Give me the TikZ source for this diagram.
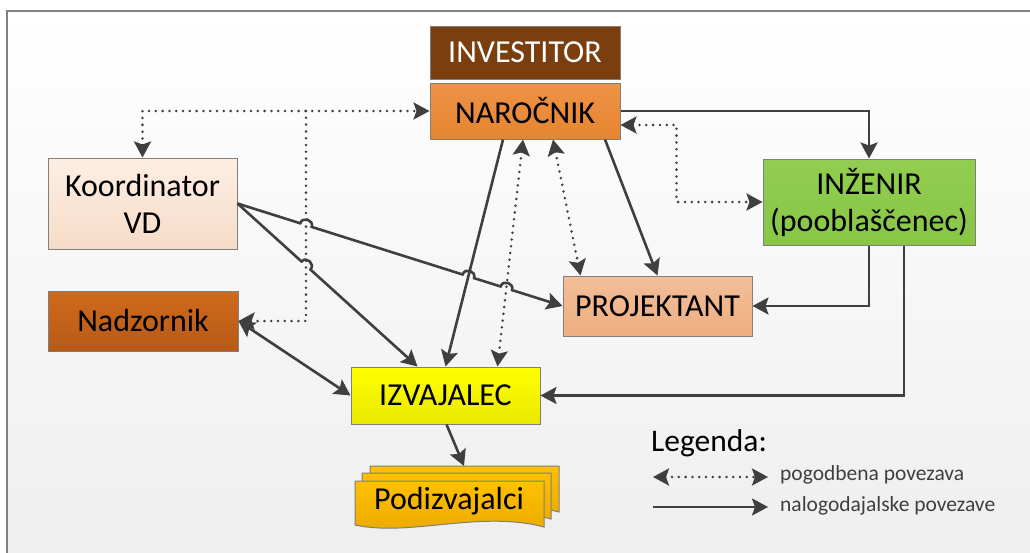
\documentclass[tikz,border=0pt]{standalone}
\usepackage{fontspec}
\setmainfont{Carlito}
\usetikzlibrary{arrows.meta,calc,intersections}
\definecolor{ln}{HTML}{3F3F3F}
\definecolor{framec}{HTML}{808080}
\definecolor{bordc}{HTML}{7F7F7F}
\definecolor{bgbot}{HTML}{EEEEEE}
\definecolor{invc}{HTML}{7B3F0F}
\definecolor{nartop}{HTML}{EE9247}
\definecolor{narbot}{HTML}{E5852F}
\definecolor{kootop}{HTML}{FDEEE3}
\definecolor{koobot}{HTML}{F6DCC8}
\definecolor{inztop}{HTML}{92CD50}
\definecolor{inzbot}{HTML}{88C646}
\definecolor{protop}{HTML}{F3BE98}
\definecolor{probot}{HTML}{EEAE80}
\definecolor{nadtop}{HTML}{D06A1C}
\definecolor{nadbot}{HTML}{B75A17}
\definecolor{izvtop}{HTML}{FFFF00}
\definecolor{izvbot}{HTML}{E9E900}
\definecolor{podtop}{HTML}{FFC000}
\definecolor{podbot}{HTML}{E9A800}
\begin{document}
\begin{tikzpicture}[x=1pt,y=-1pt,
  >={Stealth[length=16pt,width=17pt,inset=3pt]},
  box/.style={draw=bordc, line width=1pt, inner sep=0pt, align=center,
    font=\fontsize{32}{37}\selectfont, text=black},
  con/.style={draw=ln, line width=2.6pt, ->},
  dcon/.style={draw=ln, line width=2.8pt, line cap=round, dash pattern=on 0pt off 6.8pt, <->},
  hop/.style={bend left=90, looseness=1.6},
  legtext/.style={anchor=west, inner sep=0pt, font=\fontsize{21.5}{25}\selectfont, text=ln}
]
\useasboundingbox (0,0) rectangle (1030,552);
% background frame
\path[draw=framec, line width=1.2pt, top color=white, bottom color=bgbot] (7,11) rectangle (1045,570);

% nodes
\node[box, fill=invc, text=white, minimum width=190pt, minimum height=53pt] (inv) at (525,52.5) {INVESTITOR};
\node[box, top color=nartop, bottom color=narbot, minimum width=190pt, minimum height=56pt] (nar) at (525,111) {NAROČNIK};
\node[box, top color=kootop, bottom color=koobot, minimum width=189pt, minimum height=91pt] (koord) at (142.5,203.5) {Koordinator\\VD};
\node[box, top color=inztop, bottom color=inzbot, minimum width=212pt, minimum height=86pt] (inz) at (869,202) {INŽENIR\\(pooblaščenec)};
\node[box, top color=protop, bottom color=probot, minimum width=189pt, minimum height=60pt] (proj) at (657.5,306) {PROJEKTANT};
\node[box, top color=nadtop, bottom color=nadbot, minimum width=190pt, minimum height=60pt] (nadz) at (143,321) {Nadzornik};
\node[box, top color=izvtop, bottom color=izvbot, minimum width=189pt, minimum height=57pt] (izv) at (445.5,395.5) {IZVAJALEC};

% Podizvajalci (multi-document)
\foreach \dx/\dy in {15/-15, 7/-8, 0/0}{
  \path[shift={(\dx,\dy)}, draw=bordc, line width=1pt, top color=podtop, bottom color=podbot]
    (355,481) -- (544,481) -- (544,527) .. controls (480,510) and (410,537) .. (355,525) -- cycle;
}
\node[inner sep=0pt, font=\fontsize{32}{37}\selectfont] (pod) at (449,501) {Podizvajalci};
\coordinate (podtopc) at (464,466);

% helper coordinates
\coordinate (j1) at (306,111);
\coordinate (nsA) at ([xshift=-22pt]nar.south);
\coordinate (nsB) at ([xshift=-2pt]nar.south);
\coordinate (nsC) at ([xshift=28pt]nar.south);
\coordinate (nsD) at ([xshift=80pt]nar.south);
\coordinate (inA) at ([xshift=-28pt]izv.north);
\coordinate (inB) at (izv.north);
\coordinate (inC) at ([xshift=52pt]izv.north);
\coordinate (pnA) at ([xshift=-77pt]proj.north);

% intersection helper paths
\path[name path=vdot] (j1) -- (j1 |- nadz.east);
\path[name path=kp] (koord.east) -- (proj.west);
\path[name path=ki] (koord.east) -- (inA);
\path[name path=ni] (nsA) -- (inB);
\path[name path=nid] (nsB) -- (inC);
\path[name intersections={of=kp and vdot, by=h1}];
\path[name intersections={of=kp and ni, by=h2}];
\path[name intersections={of=kp and nid, by=h3}];
\path[name intersections={of=ki and vdot, by=h4}];

% dotted connectors
\draw[dcon] (koord.north) |- (nar.west);
\draw[dcon, ->] (j1) |- (nadz.east);
\draw[dcon] ([yshift=-14pt]nar.east) -- ++(56,0) |- (inz.west);
\draw[dcon] (nsB) -- (inC);
\draw[dcon] (nsC) -- (pnA);

% solid connectors
\draw[con] (nar.east) -| (inz.north);
\draw[con] (nsA) -- (inB);
\draw[con] (nsD) -- (proj.north);
\draw[con] (inz.south) |- (proj.east);
\draw[con] ([xshift=35pt]inz.south) |- (izv.east);
\draw[con, <->] (nadz.east) -- (izv.west);
\draw[con] ([xshift=1pt]izv.south) -- (podtopc);
\draw[con] (koord.east) -- ($(h1)!6pt!(koord.east)$) to[hop] ($(h1)!6pt!(proj.west)$)
  -- ($(h2)!6pt!(koord.east)$) to[hop] ($(h2)!6pt!(proj.west)$)
  -- ($(h3)!6pt!(koord.east)$) to[hop] ($(h3)!6pt!(proj.west)$) -- (proj.west);
\draw[con] (koord.east) -- ($(h4)!6pt!(koord.east)$) to[hop] ($(h4)!6pt!(inA)$) -- (inA);

% legend
\node[anchor=west, inner sep=0pt, font=\fontsize{31.5}{36}\selectfont, text=black] (leg) at (651,443) {Legenda:};
\coordinate (la1) at (653,477);
\coordinate (lb1) at (768,477);
\coordinate (la2) at (653,507);
\coordinate (lb2) at (768,507);
\draw[dcon] (la1) -- (lb1);
\draw[con] (la2) -- (lb2);
\node[legtext] (lt1) at (780,475) {pogodbena povezava};
\node[legtext] (lt2) at (780,506) {nalogodajalske povezave};
\end{tikzpicture}
\end{document}
